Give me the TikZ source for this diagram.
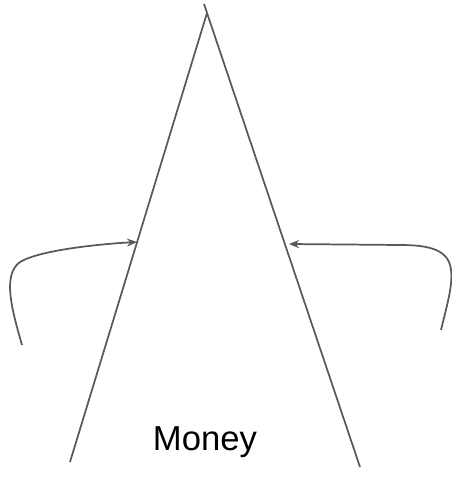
\documentclass[tikz,border=0pt]{standalone}
\usepackage{fontspec}
\setmainfont{Liberation Sans}
\usetikzlibrary{arrows.meta}
\definecolor{inkgray}{HTML}{595959}

\begin{document}
\begin{tikzpicture}[x=0.75pt,y=-0.75pt,line width=1.3pt,>={Stealth[length=7.5pt,width=6pt]},
  edge/.style={draw=inkgray},
  pull/.style={draw=inkgray,->}]
\useasboundingbox (0,0) rectangle (452,481);
% ---- the two sides of the peak ----
\coordinate (apex) at (207,13);
\coordinate (tip) at (204,4);
\coordinate (leftfoot) at (70,462);
\coordinate (rightfoot) at (360,467);
\draw[edge] (leftfoot) -- (apex);
\draw[edge] (tip) -- (rightfoot);
% ---- the pushes from both sides ----
\coordinate (lstart) at (22,345);
\coordinate (lhit) at (137,242);
\coordinate (rstart) at (441,330);
\coordinate (rhit) at (289,244);
\draw[pull] (lstart) .. controls (12,310) and (2,275) .. (20,262)
  .. controls (40,250) and (100,244) .. (lhit);
\draw[pull] (rstart) .. controls (447,305) and (453,285) .. (451,270)
  .. controls (449,250) and (430,245) .. (400,245) -- (rhit);
% ---- label ----
\node[font=\fontsize{26}{30}\selectfont,anchor=base] (money) at (205,450) {Money};
\end{tikzpicture}
\end{document}
